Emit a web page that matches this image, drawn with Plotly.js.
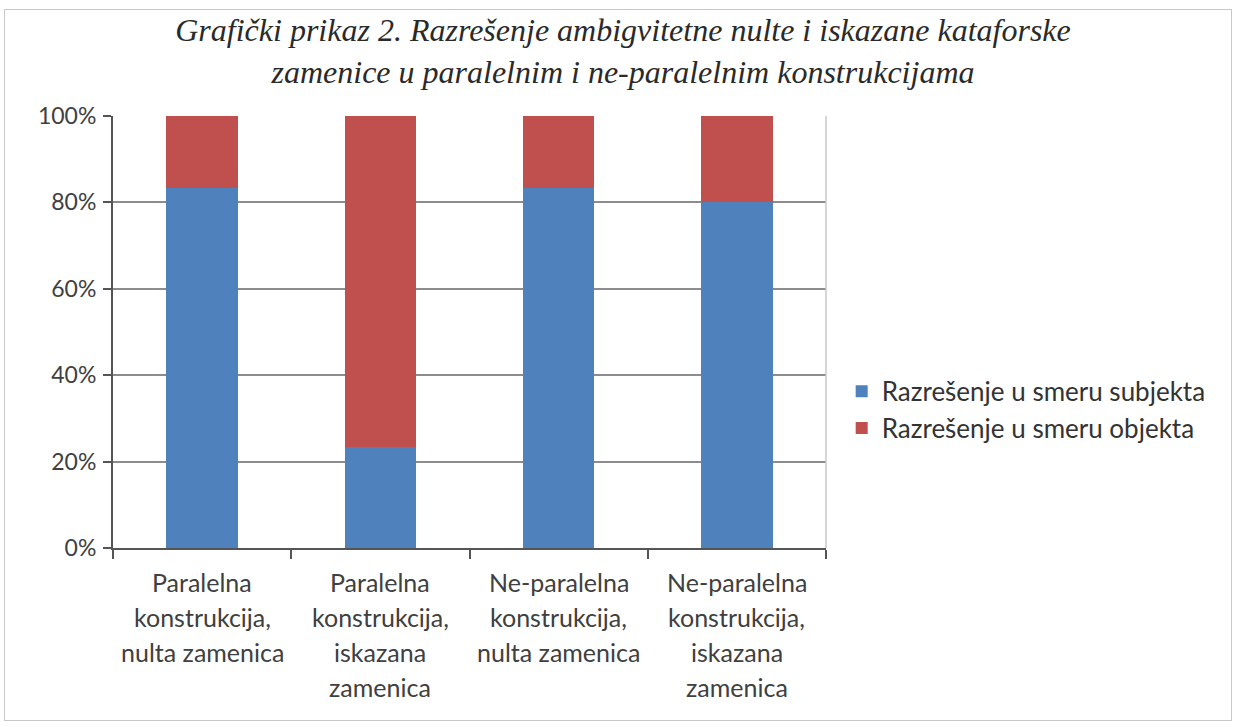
<!DOCTYPE html>
<html>
<head>
<meta charset="utf-8">
<script src="https://cdn.plot.ly/plotly-3.0.1.min.js"></script>
<style>
  html, body { margin: 0; padding: 0; background: #fff; }
  #wrap { position: relative; width: 1235px; height: 727px; }
  #chart { width: 1235px; height: 727px; }
  #frame { position: absolute; left: 4px; top: 9px; width: 1226px; height: 710px; border: 1px solid #c8c8c8; pointer-events: none; }
</style>
</head>
<body>
<div id="wrap">
  <div id="chart"></div>
  <div id="frame"></div>
</div>
<script>
const categories = [
  "Paralelna<br>konstrukcija,<br>nulta zamenica",
  "Paralelna<br>konstrukcija,<br>iskazana<br>zamenica",
  "Ne-paralelna<br>konstrukcija,<br>nulta zamenica",
  "Ne-paralelna<br>konstrukcija,<br>iskazana<br>zamenica"
];
const seriesNames = ["Razrešenje u smeru subjekta", "Razrešenje u smeru objekta"];
const subjektaValues = [83.3, 23.3, 83.3, 80.0];
const objektaValues = [16.7, 76.7, 16.7, 20.0];
const yTickValues = [0, 20, 40, 60, 80, 100];
const yTickLabels = ["0%", "20%", "40%", "60%", "80%", "100%"];
const titleText = "Grafički prikaz 2. Razrešenje ambigvitetne nulte i iskazane kataforske<br>zamenice u paralelnim i ne-paralelnim konstrukcijama";

const colors = ["#4F81BD", "#C0504D"];
const labelFont = "Lato, 'Open Sans', sans-serif";

const traces = [
  { type: "bar", x: categories, y: subjektaValues, name: seriesNames[0],
    marker: { color: colors[0] }, legendgroup: "a", hoverinfo: "y+name" },
  { type: "bar", x: categories, y: objektaValues, name: seriesNames[1],
    marker: { color: colors[1] }, legendgroup: "b", hoverinfo: "y+name" }
];

// multi-line category labels, one annotation per line, anchored on the category scale
const annotations = [];
categories.forEach(function (cat) {
  cat.split("<br>").forEach(function (line, i) {
    annotations.push({
      x: cat, xref: "x", y: 0, yref: "y",
      text: line, showarrow: false,
      xanchor: "center", yanchor: "middle",
      yshift: -34 - 35 * i,
      font: { family: labelFont, size: 25, color: "#404040" }
    });
  });
});

const layout = {
  width: 1235, height: 727,
  margin: { l: 113, r: 409, t: 116, b: 179 },
  paper_bgcolor: "#ffffff", plot_bgcolor: "#ffffff",
  barmode: "stack",
  bargap: 0.6,
  title: {
    text: titleText,
    x: 623 / 1235, xanchor: "center", xref: "container",
    y: 1 - 41 / 727, yanchor: "top", yref: "container",
    font: { family: "'Liberation Serif', 'Times New Roman', serif", size: 32, color: "#2a2a2a", style: "italic" }
  },
  xaxis: {
    type: "category",
    showticklabels: false,
    ticks: "outside", ticklen: 9, tickwidth: 2, tickcolor: "#555555",
    tickson: "boundaries",
    showline: true, linecolor: "#555555", linewidth: 2,
    showgrid: false, zeroline: false, fixedrange: true
  },
  yaxis: {
    range: [0, 100],
    tickmode: "array",
    tickvals: yTickValues,
    ticktext: yTickLabels,
    ticks: "outside", ticklen: 8, tickwidth: 2, tickcolor: "#555555",
    showline: true, linecolor: "#555555", linewidth: 2,
    showgrid: true, gridcolor: "#8c8c8c", gridwidth: 2,
    zeroline: false,
    tickfont: { family: labelFont, size: 23, color: "#404040" },
    ticklabelstandoff: 2,
    fixedrange: true
  },
  legend: {
    x: 1.022, xanchor: "left", y: 0.32, yanchor: "middle",
    font: { family: labelFont, size: 26, color: "#333333" },
    tracegroupgap: 2,
    traceorder: "normal",
    bgcolor: "rgba(0,0,0,0)"
  },
  showlegend: true,
  annotations: annotations,
  shapes: [
    { type: "line", xref: "paper", yref: "paper", x0: 1, x1: 1, y0: 0, y1: 1,
      line: { color: "#c8c8c8", width: 1.5 } }
  ]
};

Plotly.newPlot("chart", traces, layout, { displayModeBar: false, staticPlot: true });
</script>
</body>
</html>
